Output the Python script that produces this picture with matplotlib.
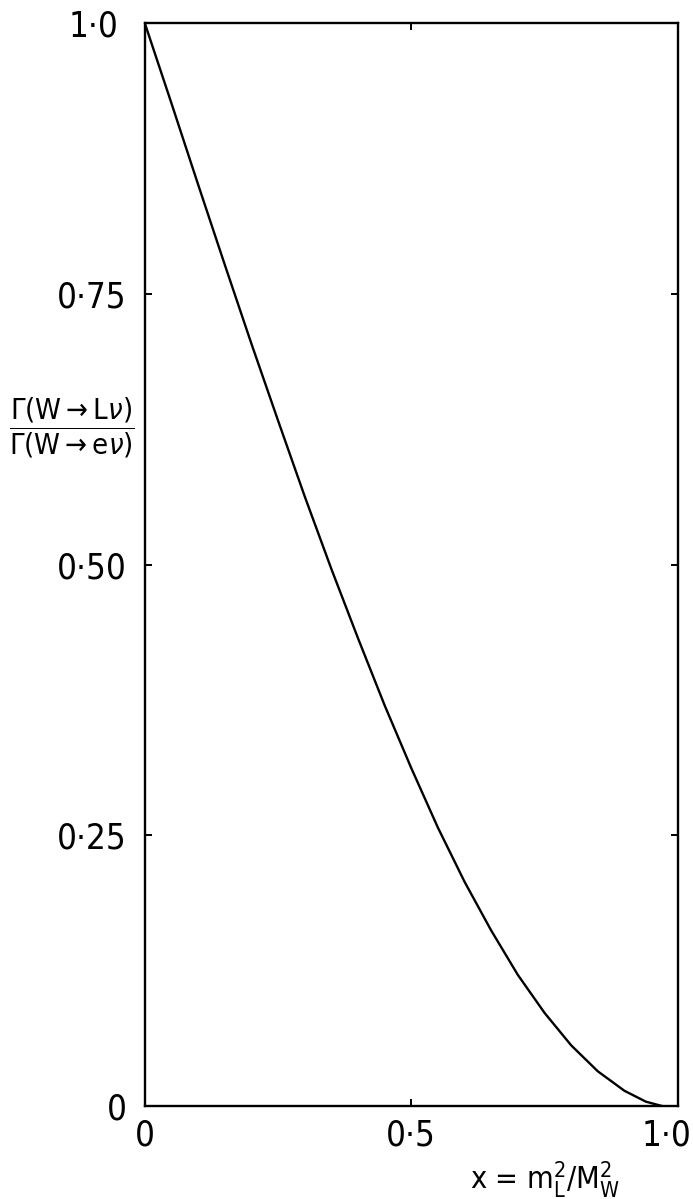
import numpy as np
import matplotlib
matplotlib.use('Agg')
import matplotlib.pyplot as plt
import matplotlib.transforms as mtransforms

# values
x_vals = [0.0, 0.05, 0.1, 0.15, 0.2, 0.25, 0.3, 0.35, 0.4, 0.45, 0.5,
          0.55, 0.6, 0.65, 0.7, 0.75, 0.8, 0.85, 0.9, 0.94, 0.97]
ratio = [1.0, 0.926, 0.851, 0.777, 0.704, 0.633, 0.563, 0.496, 0.432, 0.370, 0.312,
         0.257, 0.207, 0.162, 0.121, 0.086, 0.056, 0.032, 0.014, 0.004, 0.0]

x_ticks = [0, 0.5, 1.0]
x_ticklabels = ['0', '0\u00b75', '1\u00b70']
y_ticks = [0, 0.25, 0.5, 0.75, 1.0]
y_ticklabels = ['0', '0\u00b725', '0\u00b750', '0\u00b775', '1\u00b70']

plt.rcParams['font.family'] = ['DejaVu Sans']
plt.rcParams['font.stretch'] = 'condensed'
plt.rcParams['mathtext.fontset'] = 'dejavusans'

fig = plt.figure(figsize=(6.93, 11.99), dpi=100)
ax = fig.add_axes([0.209, 0.0776, 0.769, 0.903])

ax.plot(x_vals, ratio, color='black', lw=1.7)
ax.set_xlim(0, 1)
ax.set_ylim(0, 1)

for s in ax.spines.values():
    s.set_linewidth(1.7)

ax.set_xticks(x_ticks)
ax.set_xticklabels(x_ticklabels)
ax.set_yticks(y_ticks)
ax.set_yticklabels(y_ticklabels)
ax.tick_params(direction='in', length=5, width=1.4, labelsize=25,
               top=True, right=True)
ax.tick_params(axis='y', pad=13)
ax.tick_params(axis='x', pad=9)

# only the inner ticks are drawn in the reference
for t in ax.xaxis.get_major_ticks() + ax.yaxis.get_major_ticks():
    if t.get_loc() in (0, 1.0):
        t.tick1line.set_visible(False)
        t.tick2line.set_visible(False)

# pull the last x label back inside the figure
lab = ax.get_xticklabels()[-1]
lab.set_transform(lab.get_transform() +
                  mtransforms.ScaledTranslation(-8 / 72, 0, fig.dpi_scale_trans))
top = ax.get_yticklabels()[-1]
top.set_transform(top.get_transform() +
                  mtransforms.ScaledTranslation(-6 / 72, 0, fig.dpi_scale_trans))

fig.text(0.104, 0.643,
         r'$\dfrac{\Gamma(\mathrm{W{\to}L}\nu)}{\Gamma(\mathrm{W{\to}e}\nu)}$',
         fontsize=21, ha='center', va='center')
fig.text(0.786, 0.016, r'x = $\mathrm{m_L^2/M_W^2}$', fontsize=22,
         ha='center', va='center')

fig.savefig('out.png', dpi=100)
